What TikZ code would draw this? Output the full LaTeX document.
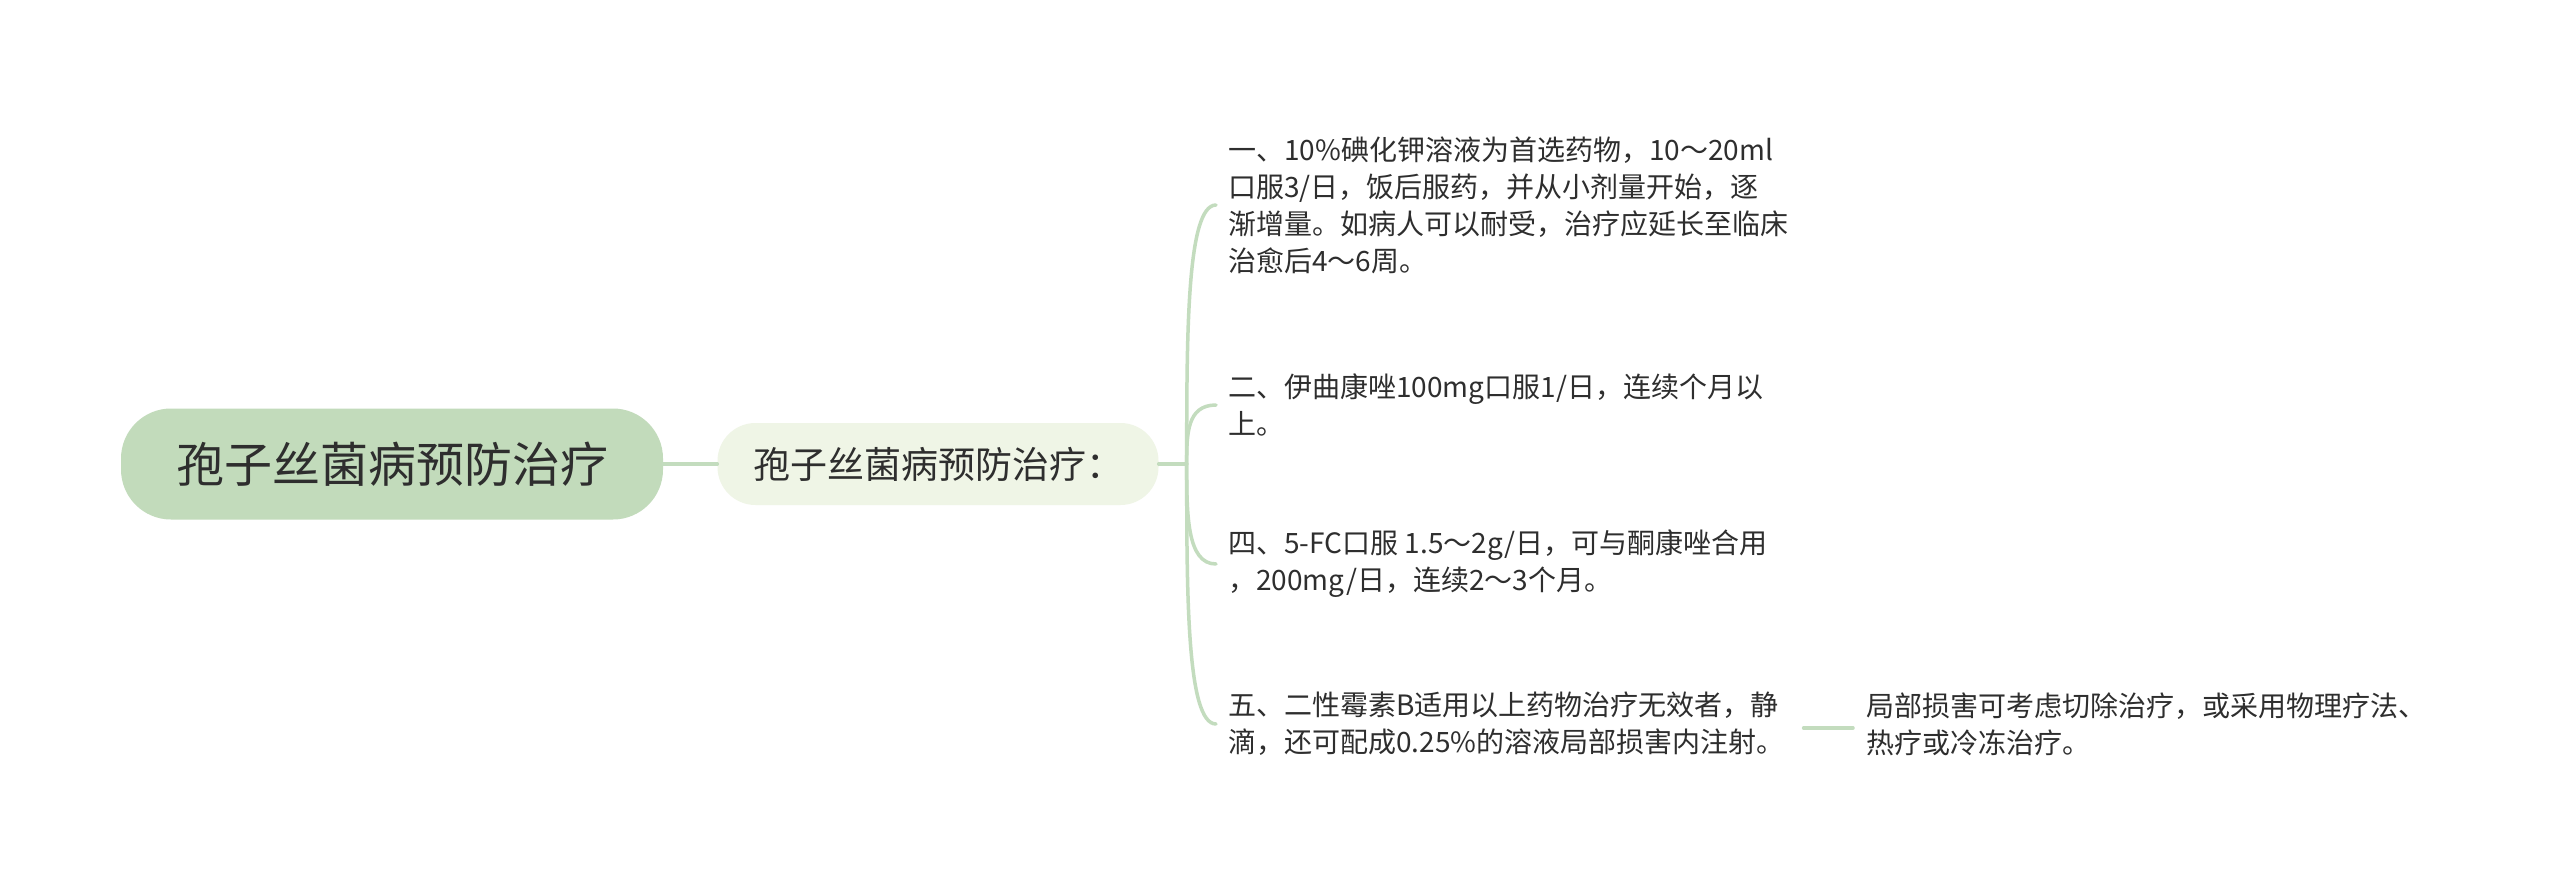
\documentclass[tikz,border=0pt]{standalone}
\usepackage{fontspec}
\usetikzlibrary{calc}
\newfontfamily\cjk{Noto Sans CJK SC}
\definecolor{rootfill}{HTML}{C2DBBB}
\definecolor{subfill}{HTML}{EFF5E6}
\definecolor{linkc}{HTML}{C3DCBE}
\definecolor{txt}{HTML}{2E2E2E}
\begin{document}
\begin{tikzpicture}[x=1pt,y=-1pt,
  rootbox/.style={fill=rootfill,rounded corners=50pt,minimum width=542pt,minimum height=111pt,inner sep=0pt,
    font=\cjk\fontsize{48}{52}\selectfont,text=txt},
  subbox/.style={fill=subfill,rounded corners=38pt,minimum width=441pt,minimum height=82pt,inner sep=0pt,
    font=\cjk\fontsize{37}{40}\selectfont,text=txt},
  leaf/.style={anchor=west,align=left,inner sep=0pt,font=\cjk\fontsize{28}{37}\selectfont,text=txt},
  link/.style={draw=linkc,line width=3.5pt,line cap=round}]
\useasboundingbox (0,0) rectangle (2560,892);
\fill[white] (0,0) rectangle (2560,892);
\node[rootbox] (root) at (392,464) {孢子丝菌病预防治疗};
\node[subbox] (sub) at (938,464) {孢子丝菌病预防治疗：};
\node[leaf] (l1) at (1228,205) {一、10\%碘化钾溶液为首选药物，10～20ml\\口服3/日，饭后服药，并从小剂量开始，逐\\渐增量。如病人可以耐受，治疗应延长至临床\\治愈后4～6周。};
\node[leaf] (l2) at (1228,405) {二、伊曲康唑100mg口服1/日，连续个月以\\上。};
\node[leaf] (l3) at (1228,564) {四、5-FC口服 1.5～2g/日，可与酮康唑合用\\，200mg/日，连续2～3个月。};
\node[leaf] (l4) at (1228,724) {五、二性霉素B适用以上药物治疗无效者，静\\滴，还可配成0.25\%的溶液局部损害内注射。};
\node[leaf] (l5) at (1866,724) {局部损害可考虑切除治疗，或采用物理疗法、\\热疗或冷冻治疗。};
\draw[link] (root.east) -- (sub.west);
\coordinate (J) at ([xshift=28pt]sub.east);
\draw[link] (sub.east) -- (J);
\foreach \l in {l1,l2,l3,l4}{
  \draw[link] (J) .. controls ($(J)!0.5!(\l.west -| J)$) and (\l.west -| J) .. ([xshift=-12pt]\l.west);
}
\draw[link] ([xshift=19pt,yshift=-4pt]l4.east) -- ([xshift=-13pt,yshift=-4pt]l5.west);
\end{tikzpicture}
\end{document}
